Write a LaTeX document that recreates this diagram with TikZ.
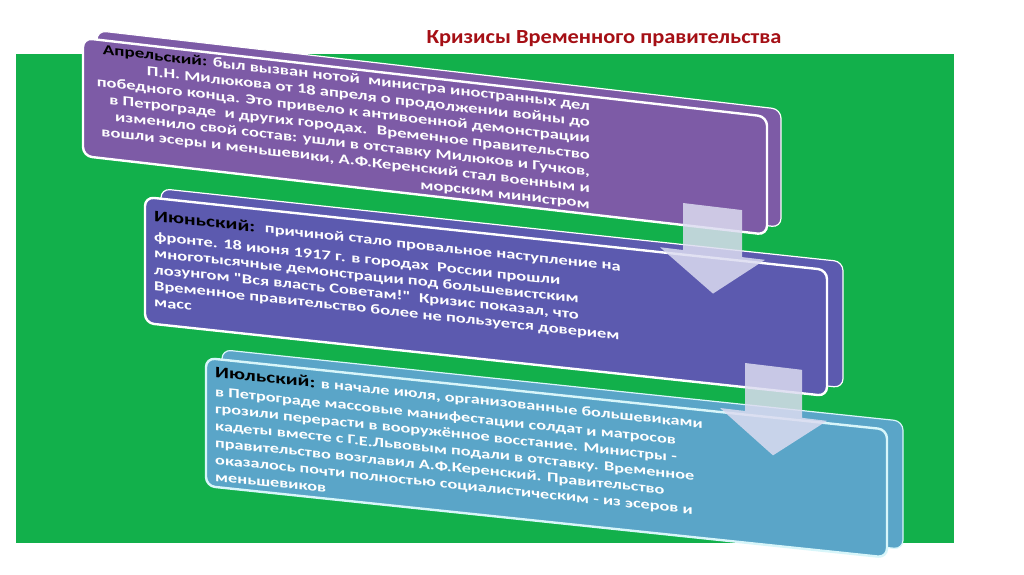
\documentclass[tikz,border=0pt]{standalone}
\usepackage{fontspec}
\setmainfont{Carlito}
\newfontfamily\bodyfont[FakeStretch=1.33]{Carlito}
\newfontfamily\titlefont[FakeStretch=1.12]{Carlito}
\definecolor{grn}{HTML}{12B04B}
\definecolor{ttl}{HTML}{A50F15}
\definecolor{pur}{HTML}{7D5BA6}
\definecolor{vio}{HTML}{5C5AAF}
\definecolor{tea}{HTML}{5AA5C8}
\definecolor{arr}{HTML}{DCDCF0}
\definecolor{edgecyan}{HTML}{D8F6FA}
\begin{document}
\begin{tikzpicture}[x=1pt,y=-1pt,
  backplate/.style={fill=#1, draw=white, line width=1.2pt, rounded corners=9pt},
  frontplate/.style={fill=#1, draw=white, line width=2.4pt, rounded corners=9pt},
  bodytext/.style={text=white, inner sep=0pt, transform shape},
  blockarrow/.style={fill=arr, fill opacity=0.85, draw=none}
]
\useasboundingbox (0,0) rectangle (1024,574);
\fill[white] (0,0) rectangle (1024,574);
\fill[grn] (16,54) rectangle (954,543);
\node[text=ttl, font=\titlefont\bfseries\fontsize{20}{24}\selectfont, anchor=base, inner sep=0pt] (title) at (604,43) {Кризисы Временного правительства};

% box 1
\begin{scope}[shift={(83,38)}, yslant=-0.115]
  \path[backplate=pur] (14,-9) rectangle (698,109);
  \path[frontplate=pur] (0,0) rectangle (684,118);
  \node[bodytext, anchor=north east, align=right, font=\bodyfont\bfseries\fontsize{13.9}{16.4}\selectfont] (t1) at (507,4) {{\color{black}\fontsize{14.3}{16.4}\selectfont Апрельский:} был вызван нотой \ министра иностранных дел\\
  П.Н. Милюкова от 18 апреля о продолжении войны до\\
  победного конца. Это привело к антивоенной демонстрации\\
  в Петрограде \ и других городах. \ Временное правительство\\
  изменило свой состав: ушли в отставку Милюков и Гучков,\\
  вошли эсеры и меньшевики, А.Ф.Керенский стал военным и\\
  морским министром};
\end{scope}

% box 2
\begin{scope}[shift={(145,197)}, yslant=-0.107]
  \path[backplate=vio] (16,-10) rectangle (698,116);
  \path[frontplate=vio] (0,0) rectangle (682,126);
  \node[bodytext, anchor=north west, align=left, font=\bodyfont\bfseries\fontsize{13.85}{16.3}\selectfont] (t2) at (9,12) {{\color{black}\fontsize{16}{16.3}\selectfont Июньский:} \ причиной стало провальное наступление на\\[4pt]
  фронте. 18 июня 1917 г. в городах \ России прошли\\
  многотысячные демонстрации под большевистским\\
  лозунгом "Вся власть Советам!" \ Кризис показал, что\\
  Временное правительство более не пользуется доверием\\
  масс};
\end{scope}

% box 3
\begin{scope}[shift={(206,358)}, yslant=-0.105]
  \path[backplate=tea, draw=edgecyan] (16,-10) rectangle (697,118);
  \path[frontplate=tea, draw=edgecyan] (0,0) rectangle (681,128);
  \node[bodytext, anchor=north west, align=left, font=\bodyfont\bfseries\fontsize{13.7}{17}\selectfont] (t3) at (9,7) {{\color{black}\fontsize{16}{17}\selectfont Июльский:} в начале июля, организованные большевиками\\[2pt]
  в Петрограде массовые манифестации солдат и матросов\\
  грозили перерасти в вооружённое восстание. Министры -\\
  кадеты вместе с Г.Е.Львовым подали в отставку. Временное\\
  правительство возглавил А.Ф.Керенский. Правительство\\
  оказалось почти полностью социалистическим - из эсеров и\\
  меньшевиков};
\end{scope}

% arrows
\begin{scope}[shift={(683,203)}, yslant=-0.12]
  \fill[blockarrow] (0,0) -- (59,0) -- (59,47) -- (82,47) -- (30,87) -- (-23,47) -- (0,47) -- cycle;
\end{scope}
\begin{scope}[shift={(745,363)}, yslant=-0.12]
  \fill[blockarrow] (0,0) -- (57,0) -- (57,48) -- (82,48) -- (28,89) -- (-25,48) -- (0,48) -- cycle;
\end{scope}
\end{tikzpicture}
\end{document}
